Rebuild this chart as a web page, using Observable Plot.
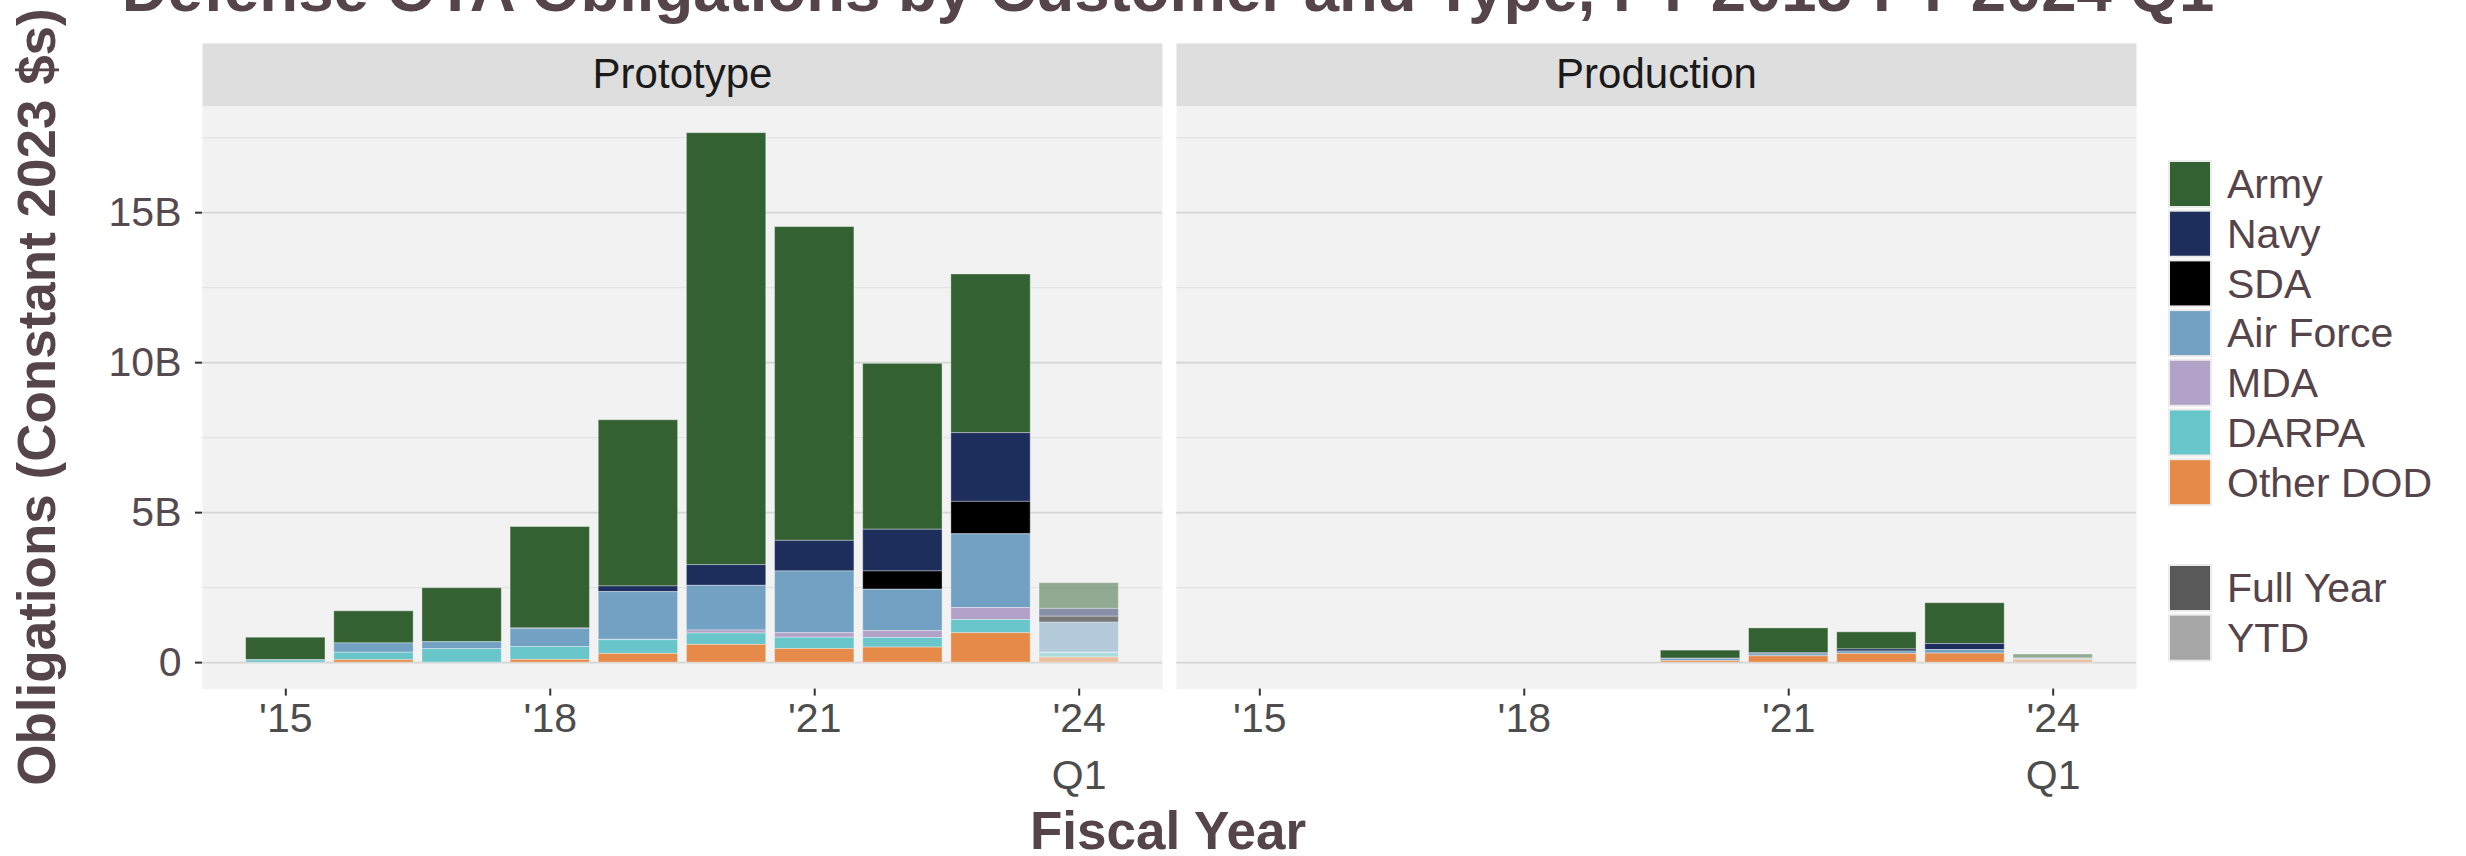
<!DOCTYPE html>
<html>
<head>
<meta charset="utf-8">
<script src="https://cdn.jsdelivr.net/npm/d3@7"></script>
<script src="https://cdn.jsdelivr.net/npm/@observablehq/plot@0.6"></script>
<style>
html, body { margin: 0; padding: 0; background: #ffffff; }
#wrap { position: relative; width: 2466px; height: 856px; overflow: hidden; font-family: "Liberation Sans", Arial, sans-serif; }
#wrap > svg { position: absolute; left: 0; top: 0; }
</style>
</head>
<body>
<div id="wrap"></div>
<script>
// ---------- data ----------
const types = ["Prototype", "Production"];
const years = [2015, 2016, 2017, 2018, 2019, 2020, 2021, 2022, 2023, 2024];
const ytdYear = 2024;
const customers = ["Army", "Navy", "SDA", "Air Force", "MDA", "DARPA", "Other DOD"];
const customerColors = ["#336131", "#1d2d5c", "#000000", "#73a1c3", "#b2a2c7", "#68c6cb", "#e58a48"];
const stackOrder = ["Other DOD", "DARPA", "MDA", "Air Force", "SDA", "Navy", "Army"];
const periods = ["Full Year", "YTD"];
const periodColors = ["#595959", "#a6a6a6"];
const yTicks = [0, 5, 10, 15];
const yMinorTicks = [2.5, 7.5, 12.5, 17.5];
const xTicks = [2015, 2018, 2021, 2024];
const xTickLabels = ["'15", "'18", "'21", "'24\nQ1"];

// Prototype obligations, billions (constant 2023 $), FY2015..FY2024 Q1
const protoArmy     = [0.75, 1.07, 1.80, 3.38, 5.54, 14.40, 10.46, 5.53, 5.29, 0.86];
const protoNavy     = [0.00, 0.00, 0.00, 0.02, 0.19, 0.69, 1.02, 1.39, 2.29, 0.26];
const protoSDA      = [0.00, 0.00, 0.00, 0.00, 0.00, 0.00, 0.00, 0.61, 1.08, 0.20];
const protoAirForce = [0.01, 0.31, 0.23, 0.60, 1.59, 1.49, 2.06, 1.38, 2.46, 1.00];
const protoMDA      = [0.00, 0.00, 0.00, 0.00, 0.01, 0.10, 0.15, 0.23, 0.40, 0.01];
const protoDARPA    = [0.07, 0.25, 0.45, 0.43, 0.46, 0.38, 0.38, 0.32, 0.44, 0.15];
const protoOther    = [0.00, 0.08, 0.00, 0.09, 0.29, 0.59, 0.45, 0.50, 0.98, 0.17];

// Production obligations, billions
const prodArmy      = [0, 0, 0, 0, 0, 0.27, 0.82, 0.57, 1.36, 0.13];
const prodNavy      = [0, 0, 0, 0, 0, 0.01, 0.04, 0.07, 0.20, 0.02];
const prodSDA       = [0, 0, 0, 0, 0, 0, 0, 0, 0, 0];
const prodAirForce  = [0, 0, 0, 0, 0, 0.07, 0.07, 0.08, 0.12, 0.03];
const prodMDA       = [0, 0, 0, 0, 0, 0, 0, 0, 0, 0];
const prodDARPA     = [0, 0, 0, 0, 0, 0, 0, 0, 0, 0];
const prodOther     = [0, 0, 0, 0, 0, 0.05, 0.21, 0.29, 0.30, 0.09];

const seriesByType = {
  Prototype: [protoArmy, protoNavy, protoSDA, protoAirForce, protoMDA, protoDARPA, protoOther],
  Production: [prodArmy, prodNavy, prodSDA, prodAirForce, prodMDA, prodDARPA, prodOther]
};

const rows = [];
for (const type of types) {
  seriesByType[type].forEach((vals, ci) => {
    vals.forEach((v, yi) => {
      if (v > 0) rows.push({type, customer: customers[ci], year: years[yi], value: v});
    });
  });
}

// ---------- chart ----------
const FONT = '"Liberation Sans", Arial, sans-serif';
const TEXT = "#55444a";

const plot = Plot.plot({
  width: 2140,
  height: 856,
  marginLeft: 201,
  marginRight: 4,
  marginTop: 106,
  marginBottom: 167.4,
  style: {fontFamily: FONT, background: "transparent", overflow: "visible"},
  fx: {domain: types, paddingInner: 0.0144, paddingOuter: 0, axis: null, label: null},
  x: {domain: [2014.055, 2024.945], label: null},
  y: {domain: [-0.883, 18.54], label: null},
  color: {domain: customers, range: customerColors},
  opacity: {type: "identity"},
  marks: [
    Plot.frame({fill: "#dedede", stroke: null, insetTop: -63, insetBottom: 582.6}),
    Plot.frame({fill: "#f2f2f2", stroke: null}),
    Plot.gridY(yMinorTicks, {stroke: "#e0e0e0", strokeOpacity: 1, strokeWidth: 1}),
    Plot.gridY(yTicks, {stroke: "#d5d5d5", strokeOpacity: 1, strokeWidth: 1.8}),
    Plot.rectY(rows, {
      fx: "type",
      x1: d => d.year - 0.45,
      x2: d => d.year + 0.45,
      y: "value",
      fill: "customer",
      order: stackOrder,
      fillOpacity: d => d.year === ytdYear ? 0.5 : 1,
      stroke: "#ffffff",
      strokeOpacity: 0.35,
      strokeWidth: 1
    }),
    Plot.axisY(yTicks, {
      tickFormat: d => d === 0 ? "0" : d + "B",
      tickSize: 7, tickPadding: 14, fontSize: 41,
      stroke: "#333333", strokeWidth: 2, fill: "#554a4f", label: null
    }),
    Plot.axisX(xTicks, {
      tickFormat: d => xTickLabels[xTicks.indexOf(d)],
      tickSize: 7, tickPadding: -5, fontSize: 41, lineHeight: 1.4,
      stroke: "#333333", strokeWidth: 2, fill: "#4d4d4d", label: null
    }),
    Plot.text(types, {fx: d => d, text: d => d, frameAnchor: "top", lineAnchor: "middle", dy: -31.5, fontSize: 42, fill: "#1a1a1a"})
  ]
});

const wrap = document.getElementById("wrap");
wrap.appendChild(plot);

// ---------- titles and legend overlay ----------
const svg = d3.select(wrap).append("svg")
  .attr("width", 2466).attr("height", 856)
  .style("pointer-events", "none")
  .attr("font-family", FONT);

svg.append("text")
  .attr("x", 1168).attr("y", 11)
  .attr("text-anchor", "middle")
  .attr("font-weight", "bold").attr("font-size", 63.5)
  .attr("fill", TEXT)
  .text("Defense OTA Obligations by Customer and Type, FY 2015-FY 2024 Q1");

svg.append("text")
  .attr("transform", "translate(55,397) rotate(-90)")
  .attr("text-anchor", "middle")
  .attr("font-weight", "bold").attr("font-size", 53)
  .attr("fill", TEXT)
  .text("Obligations (Constant 2023 $s)");

svg.append("text")
  .attr("x", 1168).attr("y", 849)
  .attr("text-anchor", "middle")
  .attr("font-weight", "bold").attr("font-size", 53)
  .attr("fill", TEXT)
  .text("Fiscal Year");

function legendBlock(labels, colors, top) {
  const step = 49.7;
  const g = svg.append("g");
  labels.forEach((lab, i) => {
    const y = top + i * step;
    g.append("rect")
      .attr("x", 2169).attr("y", y).attr("width", 42).attr("height", 46)
      .attr("fill", colors[i]).attr("stroke", "#ececec").attr("stroke-width", 2);
    g.append("text")
      .attr("x", 2227).attr("y", y + 23).attr("dy", "0.35em")
      .attr("font-size", 41).attr("fill", TEXT)
      .text(lab);
  });
}
legendBlock(customers, customerColors, 161);
legendBlock(periods, periodColors, 565);
</script>
</body>
</html>
